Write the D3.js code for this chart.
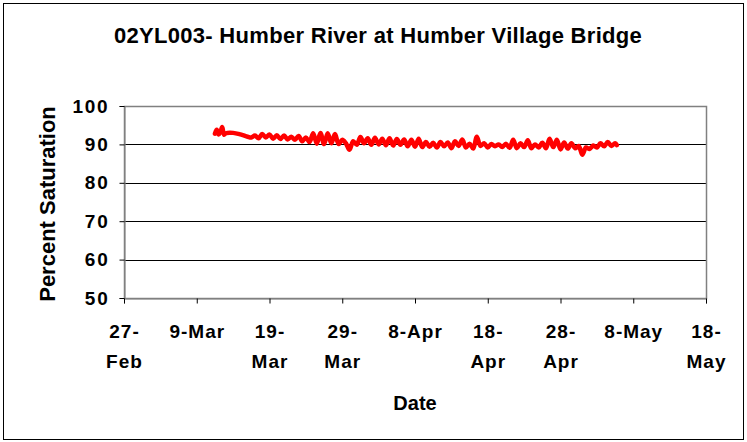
<!DOCTYPE html>
<html>
<head>
<meta charset="utf-8">
<script src="https://cdn.jsdelivr.net/npm/d3@7"></script>
<style>
  body { margin: 0; background: #fff; }
  text { font-family: "Liberation Sans", Arial, sans-serif; font-weight: bold; fill: #000; }
</style>
</head>
<body>
<div id="chart"></div>
<script>

// readings, two a day (month-day hour)
var times = ["03-11 12","03-11 18","03-12 00","03-12 06","03-12 12","03-12 18","03-13 00","03-14 00","03-15 00","03-16 00",
  "03-16 12","03-17 00","03-17 12","03-18 00","03-18 12","03-19 00","03-19 12","03-20 00","03-20 12","03-21 00",
  "03-21 12","03-22 00","03-22 12","03-23 00","03-23 12","03-24 00","03-24 12","03-25 00","03-25 12","03-26 00",
  "03-26 12","03-27 00","03-27 12","03-28 00","03-28 12","03-29 00","03-29 12","03-30 00","03-30 12","03-31 00",
  "03-31 12","04-01 00","04-01 12","04-02 00","04-02 12","04-03 00","04-03 12","04-04 00","04-04 12","04-05 00",
  "04-05 12","04-06 00","04-06 12","04-07 00","04-07 12","04-08 00","04-08 12","04-09 00","04-09 12","04-10 00",
  "04-10 12","04-11 00","04-11 12","04-12 00","04-12 12","04-13 00","04-13 12","04-14 00","04-14 12","04-15 00",
  "04-15 12","04-16 00","04-16 12","04-17 00","04-17 12","04-18 00","04-18 12","04-19 00","04-19 12","04-20 00",
  "04-20 12","04-21 00","04-21 12","04-22 00","04-22 12","04-23 00","04-23 12","04-24 00","04-24 12","04-25 00",
  "04-25 12","04-26 00","04-26 12","04-27 00","04-27 12","04-28 00","04-28 12","04-29 00","04-29 12","04-30 00",
  "04-30 12","05-01 00","05-01 12","05-02 00","05-02 12","05-03 00","05-03 12","05-04 00","05-04 12","05-05 00",
  "05-05 12","05-05 18"];

var saturation = [92.8,93.8,92.6,93.2,94.5,92.5,92.9,93.0,92.6,92.0,
  91.8,92.3,91.6,92.7,91.8,92.6,91.5,92.4,91.4,92.3,
  91.3,92.0,91.2,92.2,90.8,91.8,90.6,92.9,90.2,93.0,
  90.1,92.9,90.3,92.7,90.1,91.2,90.3,88.6,90.8,89.9,
  91.9,90.3,91.6,89.9,91.7,90.0,91.5,89.8,91.6,89.7,
  91.4,89.9,91.3,89.5,91.2,89.4,91.5,89.3,90.6,89.4,
  90.4,89.2,90.6,89.5,90.5,89.0,90.8,89.6,91.3,89.2,
  90.2,88.9,92.0,89.6,90.3,89.2,90.1,89.5,90.0,89.3,
  90.2,89.1,91.2,89.0,90.3,89.3,91.1,89.0,90.0,89.2,
  90.4,89.0,91.5,89.3,91.2,88.7,90.5,88.9,90.3,89.0,
  89.6,87.3,89.2,88.8,89.7,89.2,90.3,89.5,90.6,89.6,
  90.3,89.8];

var tickDates = ["02-27","03-09","03-19","03-29","04-08","04-18","04-28","05-08","05-18"];
var tickLabels = [["27-","Feb"],["9-Mar"],["19-","Mar"],["29-","Mar"],["8-Apr"],["18-","Apr"],["28-","Apr"],["8-May"],["18-","May"]];
var yTicks = [50, 60, 70, 80, 90, 100];

var width = 747, height = 442;
var margin = {left: 124, right: 41, top: 106, bottom: 144};

var parseTime = d3.timeParse("%m-%d %H");
var parseDay = d3.timeParse("%m-%d");

var data = times.map(function(t, i) { return {date: parseTime(t), value: saturation[i]}; });
var ticks = tickDates.map(function(d) { return parseDay(d); });

var svg = d3.select("#chart").append("svg")
  .attr("width", width)
  .attr("height", height);

// outer frame
svg.append("rect")
  .attr("x", 3.5).attr("y", 3.5)
  .attr("width", width - 7).attr("height", height - 6)
  .attr("fill", "#fff").attr("stroke", "#000").attr("stroke-width", 1);

var x = d3.scaleTime()
  .domain([ticks[0], ticks[ticks.length - 1]])
  .range([margin.left, width - margin.right]);

var y = d3.scaleLinear()
  .domain([50, 100])
  .range([height - margin.bottom, margin.top]);

// gridlines
svg.append("g").selectAll("line")
  .data(yTicks.filter(function(d) { return d > 50 && d < 100; }))
  .enter().append("line")
  .attr("x1", margin.left).attr("x2", width - margin.right)
  .attr("y1", function(d) { return Math.round(y(d)) + 0.5; })
  .attr("y2", function(d) { return Math.round(y(d)) + 0.5; })
  .attr("stroke", "#000").attr("stroke-width", 1);

// plot area border
svg.append("rect")
  .attr("x", margin.left + 0.5).attr("y", margin.top + 0.5)
  .attr("width", width - margin.right - margin.left)
  .attr("height", height - margin.bottom - margin.top)
  .attr("fill", "none").attr("stroke", "#808080").attr("stroke-width", 1.5);

// y axis
var yAxis = svg.append("g")
  .attr("transform", "translate(" + (margin.left + 0.5) + ",0)")
  .call(d3.axisLeft(y).tickValues(yTicks).tickSize(5).tickPadding(10));
yAxis.select(".domain").attr("stroke", "#808080");
yAxis.selectAll(".tick line").attr("stroke", "#000");
yAxis.selectAll("text")
  .style("font-size", "19px")
  .style("letter-spacing", "1.8px")
  .attr("fill", "#000");

// x axis
var xAxis = svg.append("g")
  .attr("transform", "translate(0," + (height - margin.bottom + 0.5) + ")")
  .call(d3.axisBottom(x).tickValues(ticks).tickSize(5).tickFormat(""));
xAxis.select(".domain").attr("stroke", "#808080");
xAxis.selectAll(".tick line").attr("stroke", "#000");

xAxis.selectAll(".tick").append("text")
  .style("font-size", "19px")
  .style("letter-spacing", "1px")
  .attr("text-anchor", "middle")
  .each(function(d, i) {
    var t = d3.select(this);
    tickLabels[i].forEach(function(s, j) {
      t.append("tspan").attr("x", 0).attr("y", 39 + j * 30).text(s);
    });
  });

// line
var line = d3.line()
  .x(function(d) { return x(d.date); })
  .y(function(d) { return y(d.value); })
  .curve(d3.curveCatmullRom);

svg.append("path")
  .datum(data)
  .attr("d", line)
  .attr("fill", "none")
  .attr("stroke", "#ff0000")
  .attr("stroke-width", 4.5)
  .attr("stroke-linejoin", "round")
  .attr("stroke-linecap", "round");

// titles
svg.append("text")
  .attr("x", 378).attr("y", 43)
  .attr("text-anchor", "middle")
  .style("font-size", "22px")
  .style("letter-spacing", "0.3px")
  .text("02YL003- Humber River at Humber Village Bridge");

svg.append("text")
  .attr("x", (margin.left + width - margin.right) / 2).attr("y", 410)
  .attr("text-anchor", "middle")
  .style("font-size", "20px")
  .text("Date");

svg.append("text")
  .attr("transform", "translate(55,204) rotate(-90)")
  .attr("text-anchor", "middle")
  .style("font-size", "22px")
  .text("Percent Saturation");

</script>
</body>
</html>
